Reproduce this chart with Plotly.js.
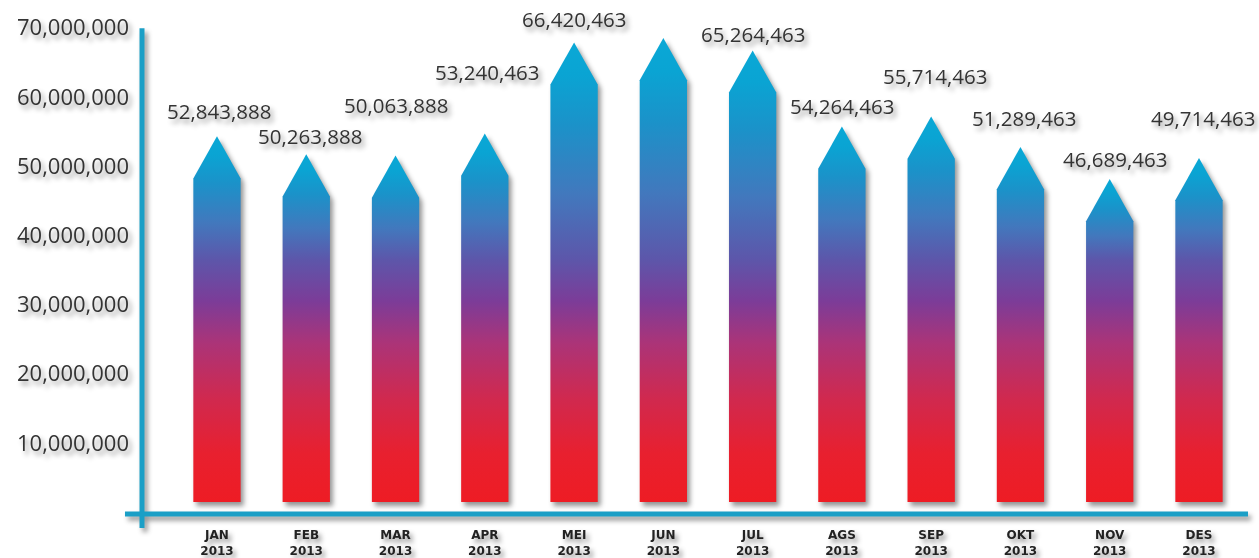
<!DOCTYPE html>
<html><head><meta charset="utf-8">
<script src="https://cdn.plot.ly/plotly-3.0.1.min.js"></script>
<style>
html,body{margin:0;padding:0;background:#ffffff;}
#chart{width:1259px;height:558px;}
#chart svg.main-svg{filter:drop-shadow(3px 4px 2.5px rgba(0,0,0,0.42));}
</style></head><body><div id="chart"></div>
<script>
// ---- data ----
const months = ['JAN','FEB','MAR','APR','MEI','JUN','JUL','AGS','SEP','OKT','NOV','DES'];
const year = '2013';
const values = [52843888, 50263888, 50063888, 53240463, 66420463, 67050000, 65264463, 54264463, 55714463, 51289463, 46689463, 49714463];
const valueLabels = ['52,843,888','50,263,888','50,063,888','53,240,463','66,420,463', null,'65,264,463','54,264,463','55,714,463','51,289,463','46,689,463','49,714,463'];
const yTickVals = [10000000, 20000000, 30000000, 40000000, 50000000, 60000000, 70000000];

// ---- style ----
const labelLift  = [25, 18, 51, 62, 23, 0, 16, 21, 40, 29, 20, 40];
const labelNudge = [2, 4, 0, 2, 0, 0, 0, 0, 4, 4, 5, 4];
const HALF = 0.265;       // half body width in category units
const HEAD = 6.1e6;       // arrow head height in value units
const AXIS = '#1b9fc6';

const lowStops = [[0,'#ee1c24'],[7e6,'#e8202f'],[15e6,'#d0294f'],[23e6,'#ab3478'],[29e6,'#7c3c98'],[35e6,'#5d56aa']];
const topStops = [[0.3,'#4278bd'],[0.62,'#1b92c9'],[0.85,'#0aa4d3'],[1,'#0aa8d6']];
function gradFor(h){
  const cs = lowStops.map(s => [s[0]/h, s[1]]);
  const base = 35e6;
  topStops.forEach(s => cs.push([(base + s[0]*(h-base))/h, s[1]]));
  return cs;
}

const traces = values.map((v,i) => ({
  type:'scatter', mode:'none', fill:'toself', hoverinfo:'skip',
  x:[i-HALF, i-HALF, i, i+HALF, i+HALF, i-HALF],
  y:[0, v-HEAD, v, v-HEAD, 0, 0],
  fillgradient:{type:'vertical', start:0, stop:v, colorscale:gradFor(v)}
}));

const annotations = [];
values.forEach((v,i) => {
  if (!valueLabels[i]) return;
  annotations.push({
    x:i, y:v, xref:'x', yref:'y', text:valueLabels[i], showarrow:false,
    yanchor:'middle', xanchor:'center', yshift:labelLift[i], xshift:labelNudge[i],
    font:{family:'Open Sans', size:20.5, color:'#333333'}
  });
});

const layout = {
  width:1259, height:558,
  margin:{l:142, r:11, t:10, b:44},
  paper_bgcolor:'rgba(0,0,0,0)', plot_bgcolor:'rgba(0,0,0,0)',
  showlegend:false,
  xaxis:{
    range:[-0.840, 11.549], tickvals:months.map((m,i)=>i),
    ticktext:months.map(m => '<b>'+m+'</b><br><b>'+year+'</b>'),
    showgrid:false, zeroline:false, showline:false, ticks:'',
    tickfont:{family:'DejaVu Sans', size:12, color:'#222222'},
    ticklabelstandoff:12, fixedrange:true
  },
  yaxis:{
    range:[-1.734e6, 71.1e6], tickvals:yTickVals, tickformat:',d',
    showgrid:false, zeroline:false, showline:false, ticks:'',
    tickfont:{family:'Open Sans', size:22, color:'#333333'},
    ticklabelstandoff:12, ticklabelshift:10, fixedrange:true
  },
  shapes:[
    {type:'line', xref:'paper', yref:'paper', x0:0, x1:0, y0:-0.0278, y1:0.964, line:{color:AXIS, width:5}},
    {type:'line', xref:'paper', yref:'paper', x0:-0.0154, x1:1, y0:0, y1:0, line:{color:AXIS, width:5}}
  ],
  annotations:annotations
};

Plotly.newPlot('chart', traces, layout, {displayModeBar:false, staticPlot:true});
</script></body></html>
